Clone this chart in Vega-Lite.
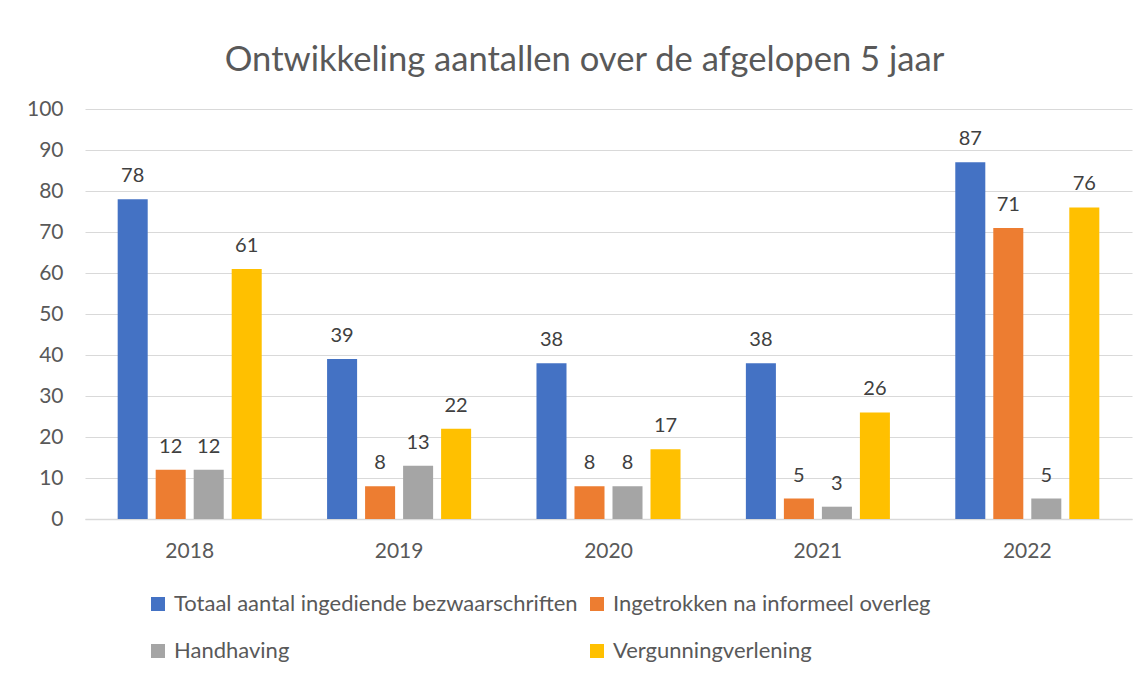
{
  "$schema": "https://vega.github.io/schema/vega-lite/v6.json",
  "width": 1047,
  "height": 410,
  "autosize": {"type": "none"},
  "padding": {"left": 85, "top": 109, "right": 15, "bottom": 156},
  "background": "white",
  "title": {
    "text": "Ontwikkeling aantallen over de afgelopen 5 jaar",
    "font": "Lato",
    "fontSize": 34.6,
    "fontWeight": "normal",
    "color": "#595959",
    "anchor": "middle",
    "frame": "group",
    "offset": 19,
    "dx": -24
  },
  "config": {
    "view": {"stroke": null},
    "font": "Lato"
  },
  "data": {
    "values": [
      {"jaar": "2018", "reeks": "Totaal aantal ingediende bezwaarschriften", "aantal": 78},
      {"jaar": "2018", "reeks": "Ingetrokken na informeel overleg", "aantal": 12},
      {"jaar": "2018", "reeks": "Handhaving", "aantal": 12},
      {"jaar": "2018", "reeks": "Vergunningverlening", "aantal": 61},
      {"jaar": "2019", "reeks": "Totaal aantal ingediende bezwaarschriften", "aantal": 39},
      {"jaar": "2019", "reeks": "Ingetrokken na informeel overleg", "aantal": 8},
      {"jaar": "2019", "reeks": "Handhaving", "aantal": 13},
      {"jaar": "2019", "reeks": "Vergunningverlening", "aantal": 22},
      {"jaar": "2020", "reeks": "Totaal aantal ingediende bezwaarschriften", "aantal": 38},
      {"jaar": "2020", "reeks": "Ingetrokken na informeel overleg", "aantal": 8},
      {"jaar": "2020", "reeks": "Handhaving", "aantal": 8},
      {"jaar": "2020", "reeks": "Vergunningverlening", "aantal": 17},
      {"jaar": "2021", "reeks": "Totaal aantal ingediende bezwaarschriften", "aantal": 38},
      {"jaar": "2021", "reeks": "Ingetrokken na informeel overleg", "aantal": 5},
      {"jaar": "2021", "reeks": "Handhaving", "aantal": 3},
      {"jaar": "2021", "reeks": "Vergunningverlening", "aantal": 26},
      {"jaar": "2022", "reeks": "Totaal aantal ingediende bezwaarschriften", "aantal": 87},
      {"jaar": "2022", "reeks": "Ingetrokken na informeel overleg", "aantal": 71},
      {"jaar": "2022", "reeks": "Handhaving", "aantal": 5},
      {"jaar": "2022", "reeks": "Vergunningverlening", "aantal": 76}
    ]
  },
  "encoding": {
    "x": {
      "field": "jaar",
      "type": "nominal",
      "title": null,
      "scale": {"paddingInner": 0.274, "paddingOuter": 0.137},
      "axis": {
        "labelAngle": 0,
        "labelFont": "Lato",
        "labelFontSize": 21,
        "labelColor": "#595959",
        "labelPadding": 21,
        "ticks": false,
        "domainColor": "#d9d9d9",
        "domainWidth": 1.5,
        "grid": false
      }
    },
    "xOffset": {
      "field": "reeks",
      "type": "nominal",
      "scale": {
        "domain": ["Totaal aantal ingediende bezwaarschriften", "Ingetrokken na informeel overleg", "Handhaving", "Vergunningverlening"],
        "paddingInner": 0.21,
        "paddingOuter": 0.105
      }
    },
    "y": {
      "field": "aantal",
      "type": "quantitative",
      "title": null,
      "scale": {"domain": [0, 100]},
      "axis": {
        "values": [0, 10, 20, 30, 40, 50, 60, 70, 80, 90, 100],
        "labelFont": "Lato",
        "labelFontSize": 21,
        "labelColor": "#595959",
        "labelPadding": 22,
        "ticks": false,
        "domain": false,
        "grid": true,
        "gridColor": "#d9d9d9",
        "gridWidth": 1.2
      }
    }
  },
  "layer": [
    {
      "mark": {"type": "bar"},
      "encoding": {
        "color": {
          "field": "reeks",
          "type": "nominal",
          "title": null,
          "scale": {
            "domain": ["Totaal aantal ingediende bezwaarschriften", "Ingetrokken na informeel overleg", "Handhaving", "Vergunningverlening"],
            "range": ["#4472C4", "#ED7D31", "#A5A5A5", "#FFC000"]
          },
          "legend": {
            "orient": "none",
            "legendX": 62,
            "legendY": 484,
            "direction": "horizontal",
            "columns": 2,
            "columnPadding": 8,
            "rowPadding": 25,
            "symbolType": "square",
            "symbolSize": 196,
            "symbolStrokeWidth": 0,
            "symbolOpacity": 1,
            "labelFont": "Lato",
            "labelFontSize": 22,
            "labelColor": "#595959",
            "labelOffset": 5,
            "labelLimit": 600
          }
        }
      }
    },
    {
      "mark": {
        "type": "text",
        "baseline": "alphabetic",
        "dy": -17,
        "font": "Lato",
        "fontSize": 20,
        "color": "#404040"
      },
      "encoding": {
        "text": {"field": "aantal", "type": "quantitative"}
      }
    }
  ]
}
